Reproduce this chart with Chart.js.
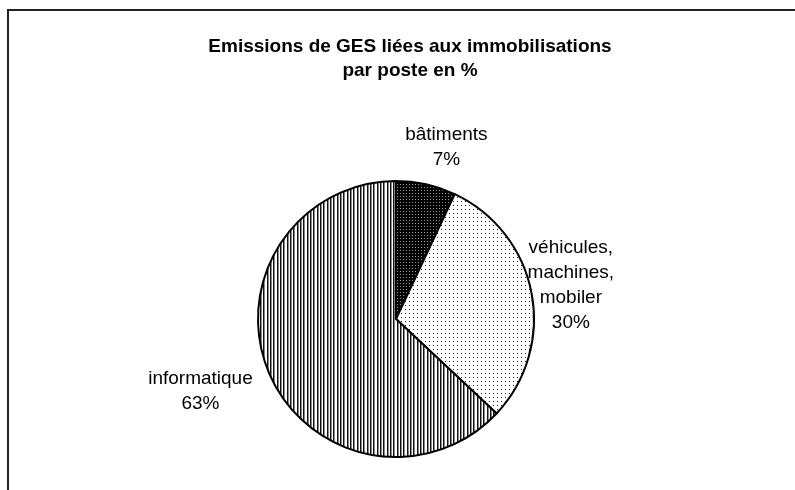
<!DOCTYPE html>
<html>
<head>
<meta charset="utf-8">
<script src="https://cdn.jsdelivr.net/npm/chart.js@4.4.1/dist/chart.umd.min.js"></script>
<style>
  body { margin: 0; background: #fff; }
  #frame { position: absolute; left: 7px; top: 9px; width: 800px; height: 500px;
           border-top: 2px solid #222; border-left: 2px solid #222; }
  #wrap { position: absolute; left: 0; top: 0; width: 795px; height: 490px; }
</style>
</head>
<body>
<div id="frame"></div>
<div id="wrap"><canvas id="myChart" width="795" height="490"></canvas></div>
<script>
// donnees
const postes = [['bâtiments'], ['véhicules,', 'machines,', 'mobiler'], ['informatique']]
const parts = [7, 30, 63]
const titre = ['Emissions de GES liées aux immobilisations', 'par poste en %']

// decalage des etiquettes (style)
const labelGap = [38, 40, 62]
const labelNudge = [[12, 0], [0, 0], [-12, -7]]

// motifs noir et blanc
function makePattern(w, h, draw) {
  let c = document.createElement('canvas')
  c.width = w
  c.height = h
  let g = c.getContext('2d')
  draw(g)
  return g.createPattern(c, 'repeat')
}

let ctx = document.getElementById('myChart').getContext('2d')

let motifBat = makePattern(3, 3, g => {
  g.fillStyle = '#000'
  g.fillRect(0, 0, 3, 3)
  g.fillStyle = '#999'
  g.fillRect(1, 1, 1, 1)
})
let motifVeh = makePattern(4, 4, g => {
  g.fillStyle = '#fff'
  g.fillRect(0, 0, 4, 4)
  g.fillStyle = '#222'
  g.fillRect(1, 1, 1, 1)
})
let motifInfo = makePattern(10, 1, g => {
  g.fillStyle = '#fff'
  g.fillRect(0, 0, 10, 1)
  g.fillStyle = '#111'
  g.fillRect(0, 0, 1, 1)
  g.fillRect(3, 0, 1, 1)
  g.fillRect(7, 0, 1, 1)
  g.fillStyle = '#888'
  g.fillRect(1, 0, 1, 1)
  g.fillRect(4, 0, 1, 1)
  g.fillRect(8, 0, 1, 1)
})

// titre dessine a la main (centre decale par rapport au camembert)
const titrePlugin = {
  id: 'titre',
  afterDraw(chart) {
    let c = chart.ctx
    c.save()
    c.fillStyle = '#000'
    c.font = 'bold 19px "Liberation Sans", Arial, sans-serif'
    c.textAlign = 'center'
    c.textBaseline = 'middle'
    titre.forEach((t, i) => c.fillText(t, 410, 47 + i * 24))
    c.restore()
  }
}

// etiquettes a l'exterieur des parts
const etiquettes = {
  id: 'etiquettes',
  afterDatasetsDraw(chart) {
    let c = chart.ctx
    let meta = chart.getDatasetMeta(0)
    c.save()
    c.fillStyle = '#000'
    c.font = '19px "Liberation Sans", Arial, sans-serif'
    c.textAlign = 'center'
    c.textBaseline = 'middle'
    meta.data.forEach((arc, i) => {
      let mid = (arc.startAngle + arc.endAngle) / 2
      let d = arc.outerRadius + labelGap[i]
      let x = arc.x + Math.cos(mid) * d + labelNudge[i][0]
      let y = arc.y + Math.sin(mid) * d + labelNudge[i][1]
      let lignes = postes[i].concat([parts[i] + '%'])
      let lh = 25
      let y0 = y - (lignes.length - 1) * lh / 2
      lignes.forEach((l, k) => c.fillText(l, x, y0 + k * lh))
    })
    c.restore()
  }
}

new Chart(ctx, {
  type: 'pie',
  data: {
    labels: postes.map(p => p.join(' ')),
    datasets: [{
      data: parts,
      backgroundColor: [motifBat, motifVeh, motifInfo],
      borderColor: '#000',
      borderWidth: 2
    }]
  },
  options: {
    responsive: false,
    animation: false,
    layout: { padding: { top: 180, bottom: 32, left: 0, right: 3 } },
    plugins: {
      legend: { display: false },
      title: { display: false },
      tooltip: { enabled: false }
    }
  },
  plugins: [titrePlugin, etiquettes]
})
</script>
</body>
</html>
